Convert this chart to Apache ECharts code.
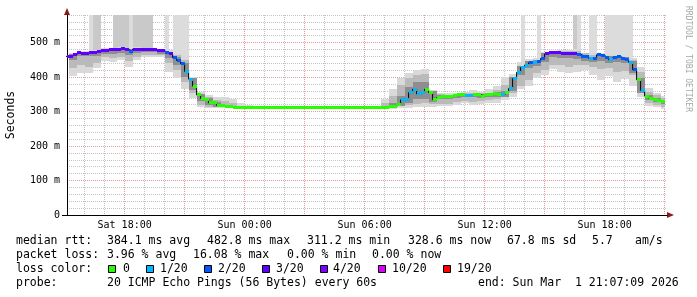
<!DOCTYPE html>
<html><head><meta charset="utf-8">
<script src="https://cdn.jsdelivr.net/npm/echarts@6/dist/echarts.min.js"></script>
<style>html,body{margin:0;padding:0;background:#fff}#c{width:697px;height:297px}</style>
</head><body><div id="c"></div><script>
// time in hours since Sat 00:00
const START = 15 + 7/60 + 9/3600;
const END = START + 30;
const DATA_END = 45.0;
const MED_T0 = 15.0, MED_STEP = 0.2;     // 12-minute steps
const SMOKE_T0 = 15.2, SMOKE_STEP = 0.4; // 24-minute steps

const median = [
460,461,466,471,469,469,471,472,473,478,
478,479,479,480,482,480,475,481,481,480,
480,480,479,478,476,472,468,456,448,439,
416,394,374,348,338,335,325,325,318,318,
315,314,312,311,311,311,311,311,311,311,
311,311,311,311,311,311,311,311,311,311,
311,311,311,311,311,311,311,311,311,311,
311,311,311,311,311,311,311,311,311,311,
313,315,316,320,334,335,355,365,351,355,
365,355,334,341,343,343,345,346,348,349,
347,347,349,349,345,350,350,351,349,350,
355,367,396,414,428,435,442,443,445,454,
467,471,471,470,469,469,469,469,466,461,
460,454,455,465,462,457,450,456,459,455,
450,443,421,392,361,345,339,335,333,328];

const lossPings = [
3,3,3,3,3,3,3,3,3,3,
3,3,3,3,3,3,2,3,3,3,
3,3,3,3,3,2,3,2,2,2,
1,1,0,0,0,0,0,0,0,0,
0,0,0,0,0,0,0,0,0,0,
0,0,0,0,0,0,0,0,0,0,
0,0,0,0,0,0,0,0,0,0,
0,0,0,0,0,0,0,0,0,0,
0,0,0,0,1,1,1,1,1,1,
0,0,0,0,0,0,0,0,0,0,
1,1,0,0,0,0,0,0,0,1,
0,1,1,1,1,1,2,1,2,2,
3,3,3,3,3,3,3,3,2,2,
2,1,2,2,2,2,1,2,2,2,
2,1,2,0,1,0,0,0,0,0];

// outlier pings above the top of the graph: 0 none, 1 outer layer, 2 two layers
const spike = [
0,0,0,0,0,0,1,2,2,0,
0,0,2,2,2,2,1,2,2,2,
2,2,0,0,0,1,0,1,1,1,
1,0,0,0,0,0,0,0,0,0,
0,0,0,0,0,0,0,0,0,0,
0,0,0,0,0,0,0,0,0,0,
0,0,0,0,0,0,0,0,0,0,
0,0,0,0,0,0,0,0,0,0,
0,0,0,0,0,0,0,0,0,0,
0,0,0,0,0,0,0,0,0,0,
0,0,0,0,0,0,0,0,0,0,
0,0,0,0,1,0,0,0,1,0,
0,0,0,0,0,0,0,2,1,0,
0,1,1,0,0,1,1,1,1,1,
1,1,0,0,0,0,0,0,0,0];

const smokeOuterLo = [
403,413,411,425,447,445,450,430,450,459,459,457,416,396,365,
338,312,310,309,309,309,309,309,309,309,
null,null,null,null,null,null,null,null,null,null,null,null,null,null,
309,308,311,309,313,313,313,315,315,319,324,
318,321,324,326,334,343,364,374,396,406,
423,416,411,416,421,406,392,403,387,393,
374,343,315,313,308];
const smokeOuterHi = [
471,477,476,478,483,483,487,485,486,485,484,481,478,470,460,
400,356,348,341,341,336,324,320,317,315,
null,null,null,null,null,null,null,null,null,null,null,null,null,null,
336,365,396,413,421,422,363,355,353,355,358,
363,358,365,374,401,410,445,452,455,474,
477,479,479,480,471,470,469,466,465,462,
455,430,367,353,345];
const smokeMidLo = [
425,435,430,440,457,454,459,448,459,465,465,464,440,421,387,
353,319,314,312,312,311,311,311,311,311,
null,null,null,null,null,null,null,null,null,null,null,null,null,null,
310,311,316,319,322,324,322,321,322,329,332,
329,331,334,336,341,353,374,392,411,421,
435,435,430,435,435,428,422,425,415,418,
406,357,324,319,314];
const smokeMidHi = [
467,474,474,476,480,480,484,482,483,482,482,479,474,464,450,
396,350,341,334,332,324,317,314,313,312,
null,null,null,null,null,null,null,null,null,null,null,null,null,null,
324,345,377,396,406,409,353,351,349,351,353,
355,353,355,363,377,400,432,446,450,469,
474,475,475,476,469,464,466,459,462,458,
450,416,358,347,340];
const smokeInnerLo = [
450,460,460,462,468,468,470,465,470,472,472,468,455,435,400,
362,330,320,314,312,311,null,null,null,null,
null,null,null,null,null,null,null,null,null,null,null,null,null,null,
null,312,316,325,335,335,328,335,337,340,341,
341,340,343,343,343,360,405,425,432,445,
458,456,455,452,448,444,447,440,443,440,
412,355,333,327,322];
const smokeInnerHi = [
468,473,473,475,480,481,483,482,482,482,481,479,474,459,442,
398,352,338,328,320,316,null,null,null,null,
null,null,null,null,null,null,null,null,null,null,null,null,null,null,
null,325,345,370,385,385,360,347,348,351,352,
352,352,354,356,360,400,432,446,450,469,
473,472,472,471,464,458,467,460,461,458,
446,396,348,338,331];

const lossLevels = [0, 1, 2, 3, 4, 10, 19];
const lossColors = ['#26ff00', '#00b8ff', '#0059ff', '#5e00ff', '#7e00ff', '#dd00ff', '#ff0000'];
const lossLabels = ['0', '1/20', '2/20', '3/20', '4/20', '10/20', '19/20'];

const hourTicks = [16,17,18,19,20,21,22,23,24,25,26,27,28,29,30,31,32,33,34,35,36,37,38,39,40,41,42,43,44,45];
const xLabelValues = [18, 24, 30, 36, 42];
const xLabelText = ['Sat 18:00', 'Sun 00:00', 'Sun 06:00', 'Sun 12:00', 'Sun 18:00'];
const yLabelValues = [0, 100, 200, 300, 400, 500];
const yLabelText = ['0', '100 m', '200 m', '300 m', '400 m', '500 m'];

const rttStats = ['median rtt:', '384.1 ms avg', '482.8 ms max', '311.2 ms min', '328.6 ms now', '67.8 ms sd', '5.7', 'am/s'];
const lossStats = ['packet loss:', '3.96 % avg', '16.08 % max', '0.00 % min', '0.00 % now'];
const probeText = ['probe:', '20 ICMP Echo Pings (56 Bytes) every 60s', 'end: Sun Mar  1 21:07:09 2026'];

const Y_MAX = 580;
const MONO = '"DejaVu Sans Mono", monospace';

function lossColor(p) {
  let c = lossColors[0];
  for (let i = 0; i < lossLevels.length; i++) if (p >= lossLevels[i]) c = lossColors[i];
  return c;
}

function bandData(loArr, hiArr) {
  const out = [];
  loArr.forEach((v, j) => {
    const t = SMOKE_T0 + SMOKE_STEP * j;
    const t2 = Math.min(t + SMOKE_STEP, DATA_END);
    if (v != null && hiArr[j] != null) out.push([t, t2, v, hiArr[j]]);
  });
  return out;
}
const smokeOuter = bandData(smokeOuterLo, smokeOuterHi);
const smokeMid = bandData(smokeMidLo, smokeMidHi);
const smokeInner = bandData(smokeInnerLo, smokeInnerHi);

const medRects = [], stepLine = [], spikes = [];
median.forEach((m, i) => {
  const t = MED_T0 + MED_STEP * i;
  medRects.push([t, t + MED_STEP, m, lossPings[i]]);
  stepLine.push([t, m]);
  if (spike[i] > 0) spikes.push([t, t + MED_STEP, m, Y_MAX + 20, spike[i]]);
});
stepLine.push([DATA_END, median[median.length - 1]]);

function clip(r, cs) {
  return echarts.graphic.clipRectByRect(r, {x: cs.x, y: cs.y, width: cs.width, height: cs.height});
}
function bandRender(fill) {
  return function (params, api) {
    const a = api.coord([api.value(0), api.value(3)]);
    const b = api.coord([api.value(1), api.value(2)]);
    const x1 = Math.round(a[0]), x2 = Math.round(b[0]);
    const y1 = Math.round(a[1]), y2 = Math.round(b[1]);
    const r = clip({x: x1, y: y1, width: x2 - x1, height: Math.max(1, y2 - y1)}, params.coordSys);
    if (!r) return;
    return {type: 'rect', shape: r, style: {fill: fill}};
  };
}
function spikeRender(params, api) {
  const a = api.coord([api.value(0), api.value(3)]);
  const b = api.coord([api.value(1), api.value(2)]);
  const x1 = Math.round(a[0]), x2 = Math.round(b[0]);
  const r = clip({x: x1, y: Math.round(a[1]), width: x2 - x1, height: Math.round(b[1]) - Math.round(a[1])}, params.coordSys);
  if (!r) return;
  return {type: 'rect', shape: r, style: {fill: api.value(4) >= 2 ? '#c9c9c9' : '#dcdcdc'}};
}
function medianRender(params, api) {
  const a = api.coord([api.value(0), api.value(2)]);
  const b = api.coord([api.value(1), api.value(2)]);
  const x1 = Math.round(a[0]), x2 = Math.round(b[0]);
  const y = Math.round(a[1] - 1.5);
  const r = clip({x: x1, y: y, width: x2 - x1, height: 3}, params.coordSys);
  if (!r) return;
  return {type: 'rect', shape: r, style: {fill: lossColor(api.value(3))}};
}

const GRID_MINOR = '#c4c4c4';
const GRID_MAJOR = '#e39a9a';

const graphics = [];
function txt(x, y, s, extra) {
  graphics.push(Object.assign({type: 'text', x: x, y: y, silent: true,
    style: {text: s, font: '11.5px ' + MONO, fill: '#000', align: 'left', verticalAlign: 'middle'}}, extra || {}));
}
const rttX = [16, 107, 207, 307, 408, 507, 592, 635];
rttStats.forEach((s, i) => txt(rttX[i], 241.5, s));
const lossX = [16, 107, 193, 287, 372];
lossStats.forEach((s, i) => txt(lossX[i], 255.5, s));
txt(16, 269.5, 'loss color:');
const boxX = [108, 146, 204, 262, 320, 378, 443];
const boxLabelX = [123, 160, 218, 276, 333, 392, 457];
lossColors.forEach((c, i) => {
  graphics.push({type: 'rect', silent: true, shape: {x: boxX[i] + 0.5, y: 265.5, width: 7, height: 7},
    style: {fill: c, stroke: '#000', lineWidth: 1}});
  txt(boxLabelX[i], 269.5, lossLabels[i]);
});
const probeX = [16, 107, 478];
probeText.forEach((s, i) => txt(probeX[i], 283.5, s));
// watermark
graphics.push({type: 'text', x: 688, y: 59, rotation: -Math.PI / 2, silent: true,
  style: {text: 'RRDTOOL / TOBI OETIKER', font: '8px ' + MONO, fill: '#a8a8a8', align: 'center', verticalAlign: 'middle'}});
// axis arrows and left stub of the x axis
graphics.push({type: 'polygon', silent: true, shape: {points: [[64, 15], [70, 15], [67, 8]]}, style: {fill: '#8b1a1a'}});
graphics.push({type: 'polygon', silent: true, shape: {points: [[667, 212], [667, 218], [674, 215]]}, style: {fill: '#8b1a1a'}});
graphics.push({type: 'line', silent: true, shape: {x1: 62, y1: 215.5, x2: 67, y2: 215.5}, style: {stroke: '#000', lineWidth: 1}});

const chart = echarts.init(document.getElementById('c'), null, {renderer: 'canvas'});
chart.setOption({
  animation: false,
  backgroundColor: '#ffffff',
  grid: {left: 67, right: 30, top: 15, bottom: 82, containLabel: false, outerBoundsMode: 'none'},
  xAxis: {
    type: 'value', min: START, max: END,
    axisLine: {show: true, onZero: false, lineStyle: {color: '#000', width: 1}},
    axisTick: {show: false, customValues: hourTicks},
    splitLine: {show: true, lineStyle: {color: [GRID_MINOR, GRID_MINOR, GRID_MAJOR], width: 1, type: [1, 1]}},
    axisLabel: {customValues: xLabelValues, margin: 5, color: '#000', fontFamily: MONO, fontSize: 10,
      formatter: v => xLabelText[xLabelValues.indexOf(Math.round(v))] || ''}
  },
  yAxis: {
    type: 'value', min: 0, max: Y_MAX, interval: 20,
    name: 'Seconds', nameLocation: 'middle', nameRotate: 90, nameGap: 50,
    nameTextStyle: {color: '#000', fontFamily: MONO, fontSize: 11.5},
    axisLine: {show: true, lineStyle: {color: '#000', width: 1}},
    axisTick: {show: false},
    splitLine: {show: true, lineStyle: {color: [GRID_MAJOR, GRID_MINOR, GRID_MINOR, GRID_MINOR, GRID_MINOR], width: 1, type: [1, 1]}},
    axisLabel: {margin: 7, color: '#000', fontFamily: MONO, fontSize: 10,
      formatter: v => { const k = yLabelValues.indexOf(v); return k >= 0 ? yLabelText[k] : ''; }}
  },
  series: [
    {type: 'custom', name: 'outliers', renderItem: spikeRender, data: spikes, z: 1, silent: true},
    {type: 'custom', name: 'smoke outer', renderItem: bandRender('#d9d9d9'), data: smokeOuter, z: 2, silent: true},
    {type: 'custom', name: 'smoke mid', renderItem: bandRender('#bababa'), data: smokeMid, z: 3, silent: true},
    {type: 'custom', name: 'smoke inner', renderItem: bandRender('#8e8e8e'), data: smokeInner, z: 4, silent: true},
    {type: 'line', name: 'median step', data: stepLine, step: 'end', showSymbol: false, symbol: 'none', z: 5,
      lineStyle: {color: '#000', width: 1}, silent: true},
    {type: 'custom', name: 'median', renderItem: medianRender, data: medRects, z: 6, silent: true}
  ],
  graphic: graphics
});
</script></body></html>
